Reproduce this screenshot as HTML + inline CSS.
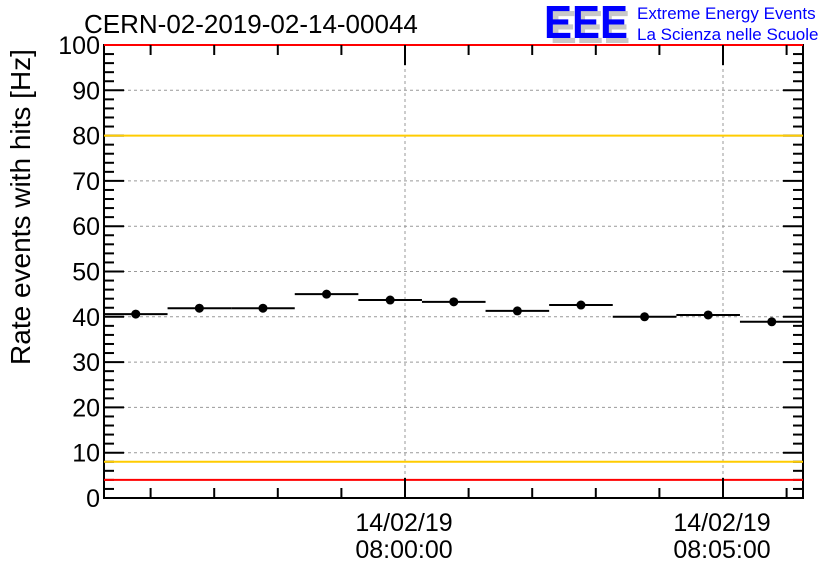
<!DOCTYPE html>
<html><head><meta charset="utf-8"><style>
body{margin:0;background:#fff}
svg{display:block;font-family:"Liberation Sans",sans-serif}
</style></head><body>
<svg id="c" width="836" height="572">
<rect width="836" height="572" fill="#fff"/>
<text x="84" y="33" font-size="26">CERN-02-2019-02-14-00044</text>
<g>
<text x="550" y="43" font-size="46" font-weight="bold" fill="#c8c8c8" textLength="80" lengthAdjust="spacingAndGlyphs">EEE</text>
<text x="544" y="38" font-size="46" font-weight="bold" fill="#0000ff" textLength="84" lengthAdjust="spacingAndGlyphs">EEE</text>
<text x="637" y="19" font-size="17" fill="#0000ff">Extreme Energy Events</text>
<text x="637" y="40" font-size="17" fill="#0000ff">La Scienza nelle Scuole</text>
</g>
<text transform="translate(30,207) rotate(-90)" text-anchor="middle" font-size="28">Rate events with hits [Hz]</text>
<g id="plot"></g>
</svg>
<script>
const binOffsetsSec=[-254,-194,-134,-74,-14,46,106,166,226,286,346];
const rates=[40.6,41.9,41.9,45.0,43.7,43.3,41.3,42.6,40.0,40.4,38.9];
const yTicks=[0,10,20,30,40,50,60,70,80,90,100];
const xMajorSec=[0,300];
const xDateLabels=["14/02/19","14/02/19"];
const xTimeLabels=["08:00:00","08:05:00"];
const hLines=[{v:100,c:"#ff0000"},{v:80,c:"#ffcc00"},{v:8,c:"#ffcc00"},{v:4,c:"#ff0000"}];

const L=104,R=803,T=45,B=498,NS="http://www.w3.org/2000/svg";
const X=s=>405+s*(63.6/60);
const Y=v=>B-(v/100)*(B-T);
const g=document.getElementById('plot');
function mk(t,a){const e=document.createElementNS(NS,t);for(const k in a)e.setAttribute(k,a[k]);g.appendChild(e);return e;}
// grid
yTicks.forEach(v=>{if(v>0&&v<100){const e=mk('line',{x1:L,x2:R,y1:Y(v),y2:Y(v),stroke:'#999','stroke-dasharray':'3,3','stroke-width':1});

}});
xMajorSec.forEach(s=>{const e=mk('line',{x1:X(s),x2:X(s),y1:T,y2:B,stroke:'#999','stroke-dasharray':'3,3','stroke-width':1});

});
// frame
const fr=mk('rect',{x:L,y:T,width:R-L,height:B-T,fill:'none',stroke:'#000','stroke-width':2});


// y ticks
for(let v=0;v<=100;v+=2){const maj=v%10===0,len=maj?20:10;
mk('line',{x1:L,x2:L+len,y1:Y(v),y2:Y(v),stroke:'#000','stroke-width':2});
mk('line',{x1:R-len,x2:R,y1:Y(v),y2:Y(v),stroke:'#000','stroke-width':2});}
yTicks.forEach(v=>{const t=mk('text',{x:L-4,y:Y(v)+9,'text-anchor':'end','font-size':25});t.textContent=v;

});
// threshold lines (drawn over frame/ticks)
hLines.forEach(h=>{const e=mk('line',{x1:L,x2:R,y1:Y(h.v),y2:Y(h.v),stroke:h.c,'stroke-width':2});

});
// x ticks
for(let s=-300;s<=360;s+=60){const x=X(s);if(x<L||x>R)continue;const maj=s%300===0,len=maj?20:10;
mk('line',{x1:x,x2:x,y1:B-len,y2:B,stroke:'#000','stroke-width':2});
mk('line',{x1:x,x2:x,y1:T,y2:T+len,stroke:'#000','stroke-width':2});}
xMajorSec.forEach((s,i)=>{const a=mk('text',{x:X(s)-1,y:531,'text-anchor':'middle','font-size':25});a.textContent=xDateLabels[i];


const b=mk('text',{x:X(s)-1,y:558,'text-anchor':'middle','font-size':25});b.textContent=xTimeLabels[i];

});
// data
binOffsetsSec.forEach((s,i)=>{const x1=Math.max(L,X(s-30)),x2=Math.min(R,X(s+30));
const l=mk('line',{x1:x1,x2:x2,y1:Y(rates[i]),y2:Y(rates[i]),stroke:'#000','stroke-width':2});


const c=mk('circle',{cx:X(s),cy:Y(rates[i]),r:4.5,fill:'#000'});

});
</script>
</body></html>
